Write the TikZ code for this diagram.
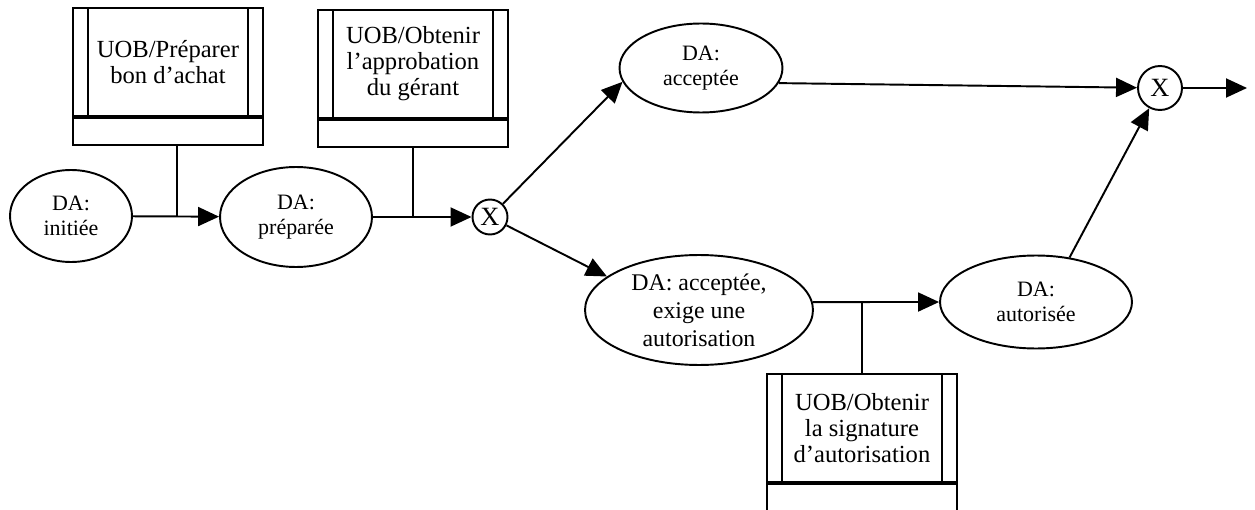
\documentclass[tikz,border=0pt]{standalone}
\usepackage{fontspec}
\setmainfont{Liberation Serif}
\usetikzlibrary{arrows.meta, positioning, calc, shapes.geometric}

\begin{document}
\begin{tikzpicture}[x=0.02cm, y=-0.02cm, line width=1.1pt, >={Triangle[length=0.42cm, width=0.38cm]},
    state/.style={ellipse, draw, inner sep=0pt, align=center, font=\fontsize{12.5}{14}\selectfont},
    bigstate/.style={state, font=\fontsize{13.6}{16}\selectfont},
    xor/.style={circle, draw, inner sep=0pt, font=\fontsize{15}{15}\selectfont},
    uob/.style={rectangle, draw, inner sep=0pt, minimum width=3.8cm, minimum height=2.16cm, align=center, font=\fontsize{14}{14.8}\selectfont,
        path picture={
            \draw ([xshift=0.3cm]path picture bounding box.south west) -- ([xshift=0.3cm]path picture bounding box.north west);
            \draw ([xshift=-0.3cm]path picture bounding box.south east) -- ([xshift=-0.3cm]path picture bounding box.north east);}},
    band/.style={rectangle, draw, inner sep=0pt, minimum width=3.8cm, minimum height=0.54cm}]
        \useasboundingbox (0,0) rectangle (1255,510);

        \node[state, minimum width=2.44cm, minimum height=1.84cm] (ini) at (71,216) {DA:\\initiée};
        \node[state, minimum width=3.04cm, minimum height=2cm] (prep) at (296,217) {DA:\\préparée};
        \node[xor, minimum size=0.7cm] (x1) at (490,217) {X};
        \node[state, minimum width=3.26cm, minimum height=1.78cm] (acc) at (701,68) {DA:\\acceptée};
        \node[bigstate, minimum width=4.56cm, minimum height=2.2cm] (exi) at (699,310) {DA: acceptée,\\exige une\\autorisation};
        \node[state, minimum width=3.84cm, minimum height=1.86cm] (aut) at (1036,302) {DA:\\autorisée};
        \node[xor, minimum size=0.88cm] (x2) at (1160,88) {X};
        \coordinate (out) at (1247,88);

        \node[uob] (box1) at (168,62) {UOB/Préparer\\bon d’achat};
        \node[band, below=0pt of box1] (box1b) {};
        \node[uob] (box2) at (413,64) {UOB/Obtenir\\l’approbation\\du gérant};
        \node[band, below=0pt of box2] (box2b) {};
        \node[uob] (box3) at (862,428) {UOB/Obtenir\\la signature\\d’autorisation};
        \node[band, below=0pt of box3] (box3b) {};

        \coordinate (j1) at (177,217);
        \coordinate (j2) at (413,217);
        \coordinate (j3) at (862,302);

        \draw[->] (ini) -- (prep);
        \draw (box1b.south -| j1) -- (j1);
        \draw[->] (prep) -- (x1);
        \draw (box2b) -- (j2);
        \draw[->] (x1) -- (acc.190);
        \draw[->] (x1) -- (exi.160);
        \draw[->] (exi.4) -- (aut);
        \draw (box3) -- (j3);
        \draw[->] (acc.-11) -- (x2);
        \draw[->] (aut.53) -- (x2);
        \draw[->] (x2) -- (out);
    \end{tikzpicture}
\end{document}
